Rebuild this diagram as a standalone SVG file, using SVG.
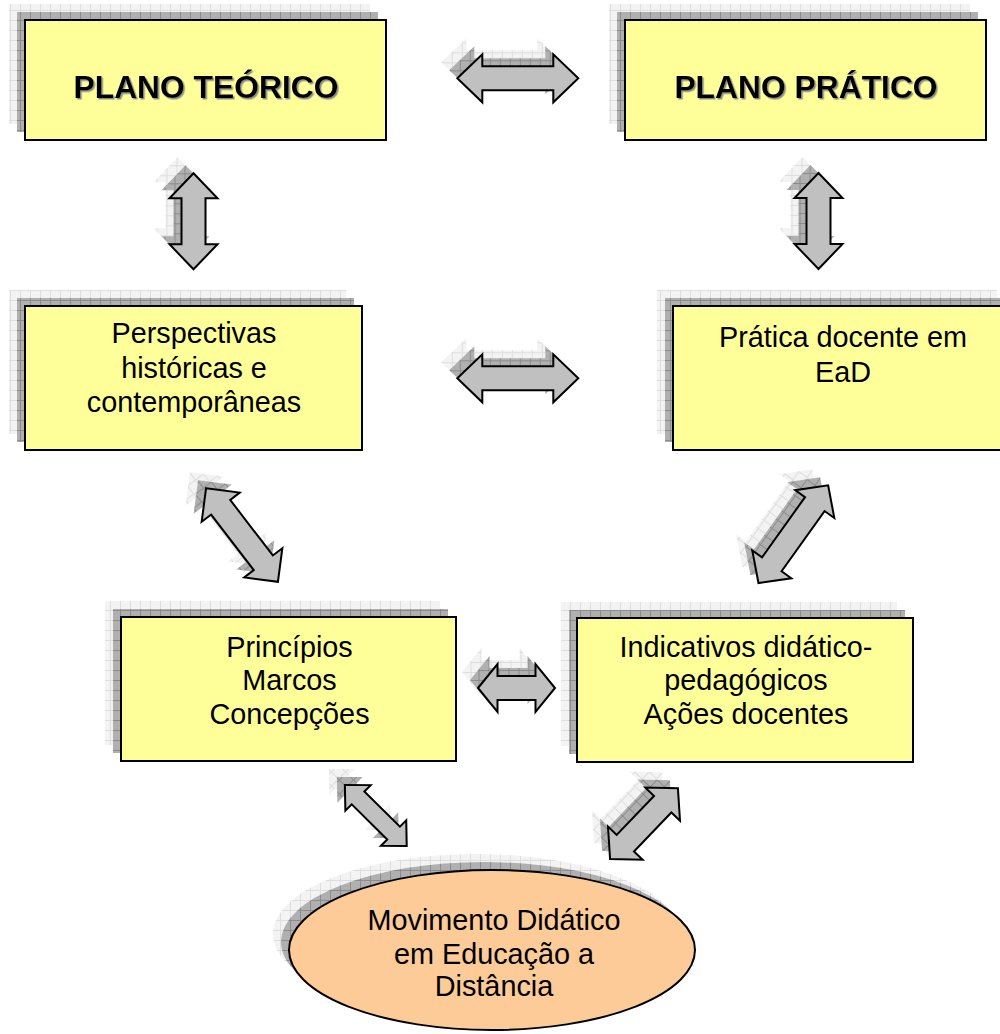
<svg xmlns="http://www.w3.org/2000/svg" xmlns:xlink="http://www.w3.org/1999/xlink" width="1000" height="1034" viewBox="0 0 1000 1034">
<defs>
<style>
.box{fill:#ffff99;stroke:#000;stroke-width:2}
.ell{fill:#fccb98;stroke:#000;stroke-width:2}
.sh1{fill:url(#pDark)}
.sh2{fill:url(#pLight)}
.arr{fill:#c0c0c0;stroke:#000;stroke-width:2;stroke-linejoin:miter}
.t{font-family:"Liberation Sans",Arial,Helvetica,sans-serif;font-size:28.8px;text-anchor:middle;fill:#000}
.tb{font-weight:bold;font-size:31.8px;filter:url(#tsh)}
</style>
<pattern id="pDark" width="10" height="10" patternUnits="userSpaceOnUse">
<rect width="10" height="10" fill="#b0b0b0"/>
<path d="M0,0.5H10M0.5,0V10" stroke="#8c8c8c" stroke-width="1" fill="none"/>
</pattern>
<pattern id="pLight" width="10" height="10" patternUnits="userSpaceOnUse">
<rect width="10" height="10" fill="#f3f3f3"/>
<path d="M0,0.5H10M0.5,0V10" stroke="#dedede" stroke-width="1" fill="none"/>
</pattern>
<filter id="tsh" x="-5%" y="-20%" width="110%" height="140%">
<feDropShadow dx="1.5" dy="1.5" stdDeviation="0.4" flood-color="#8a8a8a" flood-opacity="1"/>
</filter>
<path id="aH" d="M-60.5,0 L-35.5,-24 L-35.5,-12 L35.5,-12 L35.5,-24 L60.5,0 L35.5,24 L35.5,12 L-35.5,12 L-35.5,24 Z"/>
<path id="aV" d="M-48,0 L-23,-24 L-23,-12 L23,-12 L23,-24 L48,0 L23,24 L23,12 L-23,12 L-23,24 Z"/>
<path id="aDL" d="M-59,0 L-35,-24 L-35,-12 L35,-12 L35,-24 L59,0 L35,24 L35,12 L-35,12 L-35,24 Z"/>
<path id="aDR" d="M-60,0 L-37,-24 L-37,-12 L37,-12 L37,-24 L60,0 L37,24 L37,12 L-37,12 L-37,24 Z"/>
<path id="aS" d="M-38.5,0 L-19,-24 L-19,-12 L19,-12 L19,-24 L38.5,0 L19,24 L19,12 L-19,12 L-19,24 Z"/>
<path id="aBL" d="M-43.5,0 L-25,-18 L-25,-9 L25,-9 L25,-18 L43.5,0 L25,18 L25,9 L-25,9 L-25,18 Z"/>
<path id="aBR" d="M-49,0 L-27,-24 L-27,-12 L27,-12 L27,-24 L49,0 L27,24 L27,12 L-27,12 L-27,24 Z"/>
</defs>

<g id="connectors">
<use href="#aH" class="sh2" transform="translate(501.8,62.3)"/>
<use href="#aH" class="sh1" transform="translate(509.8,70.3)"/>
<use href="#aH" class="arr" transform="translate(517.8,78.3)"/>
<use href="#aH" class="sh2" transform="translate(501.8,362.3)"/>
<use href="#aH" class="sh1" transform="translate(509.8,370.3)"/>
<use href="#aH" class="arr" transform="translate(517.8,378.3)"/>
<use href="#aV" class="sh2" transform="translate(177.5,205.3) rotate(90)"/>
<use href="#aV" class="sh1" transform="translate(185.5,213.3) rotate(90)"/>
<use href="#aV" class="arr" transform="translate(193.5,221.3) rotate(90)"/>
<use href="#aV" class="sh2" transform="translate(802.5,205) rotate(90)"/>
<use href="#aV" class="sh1" transform="translate(810.5,213) rotate(90)"/>
<use href="#aV" class="arr" transform="translate(818.5,221) rotate(90)"/>
<use href="#aDL" class="sh2" transform="translate(226,519) rotate(52.5)"/>
<use href="#aDL" class="sh1" transform="translate(234,527) rotate(52.5)"/>
<use href="#aDL" class="arr" transform="translate(242,535) rotate(52.5)"/>
<use href="#aDR" class="sh2" transform="translate(777.3,518.2) rotate(-54.5)"/>
<use href="#aDR" class="sh1" transform="translate(785.3,526.2) rotate(-54.5)"/>
<use href="#aDR" class="arr" transform="translate(793.3,534.2) rotate(-54.5)"/>
<use href="#aS" class="sh2" transform="translate(500.5,672)"/>
<use href="#aS" class="sh1" transform="translate(508.5,680)"/>
<use href="#aS" class="arr" transform="translate(516.5,688)"/>
<use href="#aBL" class="sh2" transform="translate(359.8,799.5) rotate(44.7)"/>
<use href="#aBL" class="sh1" transform="translate(367.8,807.5) rotate(44.7)"/>
<use href="#aBL" class="arr" transform="translate(375.8,815.5) rotate(44.7)"/>
<use href="#aBR" class="sh2" transform="translate(628,807.7) rotate(-46.2)"/>
<use href="#aBR" class="sh1" transform="translate(636,815.7) rotate(-46.2)"/>
<use href="#aBR" class="arr" transform="translate(644,823.7) rotate(-46.2)"/>
</g>

<g id="plano-teorico">
<rect class="sh2" x="9" y="4" width="361" height="120"/>
<rect class="sh1" x="17" y="12" width="361" height="120"/>
<rect class="box" x="25" y="20" width="361" height="120"/>
<text class="t tb" x="206" y="98">PLANO TEÓRICO</text>
</g>

<g id="plano-pratico">
<rect class="sh2" x="609" y="4" width="361" height="120"/>
<rect class="sh1" x="617" y="12" width="361" height="120"/>
<rect class="box" x="625" y="20" width="361" height="120"/>
<text class="t tb" x="806" y="98">PLANO PRÁTICO</text>
</g>

<g id="perspectivas">
<rect class="sh2" x="9" y="290" width="337" height="144"/>
<rect class="sh1" x="17" y="298" width="337" height="144"/>
<rect class="box" x="25" y="306" width="337" height="144"/>
<text class="t" x="194" y="343">Perspectivas</text>
<text class="t" x="194" y="377.5">históricas e</text>
<text class="t" x="194" y="412">contemporâneas</text>
</g>

<g id="pratica-docente">
<rect class="sh2" x="657" y="290" width="340" height="144"/>
<rect class="sh1" x="665" y="298" width="340" height="144"/>
<rect class="box" x="673" y="306" width="340" height="144"/>
<text class="t" x="843" y="346.5">Prática docente em</text>
<text class="t" x="843" y="381.5">EaD</text>
</g>

<g id="principios">
<rect class="sh2" x="105" y="601" width="335" height="144"/>
<rect class="sh1" x="113" y="609" width="335" height="144"/>
<rect class="box" x="121" y="617" width="335" height="144"/>
<text class="t" x="289.5" y="656.5">Princípios</text>
<text class="t" x="289.5" y="690">Marcos</text>
<text class="t" x="289.5" y="723.5">Concepções</text>
</g>

<g id="indicativos">
<rect class="sh2" x="561" y="602" width="336" height="144"/>
<rect class="sh1" x="569" y="610" width="336" height="144"/>
<rect class="box" x="577" y="618" width="336" height="144"/>
<text class="t" x="746" y="656.5">Indicativos didático-</text>
<text class="t" x="746" y="690">pedagógicos</text>
<text class="t" x="746" y="723.5">Ações docentes</text>
</g>

<g id="movimento">
<ellipse class="sh2" cx="476" cy="934" rx="203" ry="80"/>
<ellipse class="sh1" cx="484" cy="942" rx="203" ry="80"/>
<ellipse class="ell" cx="492" cy="950" rx="203" ry="80"/>
<text class="t" x="494" y="930">Movimento Didático</text>
<text class="t" x="494" y="963.5">em Educação a</text>
<text class="t" x="494" y="996">Distância</text>
</g>
</svg>
